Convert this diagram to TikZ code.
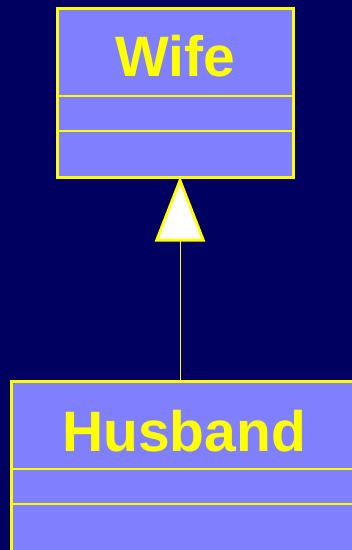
\documentclass[tikz,border=0pt]{standalone}
\usepackage{fontspec}
\setmainfont{Liberation Sans}
\usetikzlibrary{arrows.meta}
\definecolor{bgnavy}{HTML}{000060}
\definecolor{boxfill}{HTML}{8080FF}
\definecolor{umlyellow}{HTML}{FFFF00}
\tikzset{
  classbox/.style={draw=umlyellow, fill=boxfill, line width=3pt, rectangle, inner sep=0pt},
  divider/.style={draw=umlyellow, line width=2.4pt},
  title/.style={text=umlyellow, font=\fontsize{57}{60}\selectfont\bfseries, anchor=base, inner sep=0pt},
  inherit/.style={draw=umlyellow, line width=1pt, -{Triangle[length=65pt,width=50pt,fill=white,line width=2.8pt]}}
}
\begin{document}
\begin{tikzpicture}[x=1pt,y=-1pt]
\fill[bgnavy] (0,0) rectangle (352,550);
\useasboundingbox (0,0) rectangle (352,550);
% Wife class
\node[classbox, minimum width=236pt, minimum height=169pt] (wife) at (175,92.5) {};
\coordinate (wd1l) at (56.5,96); \coordinate (wd1r) at (293.5,96);
\coordinate (wd2l) at (56.5,131); \coordinate (wd2r) at (293.5,131);
\draw[divider] (wd1l) -- (wd1r);
\draw[divider] (wd2l) -- (wd2r);
\node[title] (wifet) at (175,76) {Wife};
% Husband class
\node[classbox, minimum width=352pt, minimum height=180pt] (husband) at (187,471) {};
\coordinate (hd1l) at (11,469); \coordinate (hd1r) at (362,469);
\coordinate (hd2l) at (11,504); \coordinate (hd2r) at (362,504);
\draw[divider] (hd1l) -- (hd1r);
\draw[divider] (hd2l) -- (hd2r);
\node[title] (husbandt) at (184,451) {Husband};
% generalization
\coordinate (top) at (180,176.5);
\coordinate (bot) at (180,380);
\draw[inherit] (bot) -- (top);
\end{tikzpicture}
\end{document}
